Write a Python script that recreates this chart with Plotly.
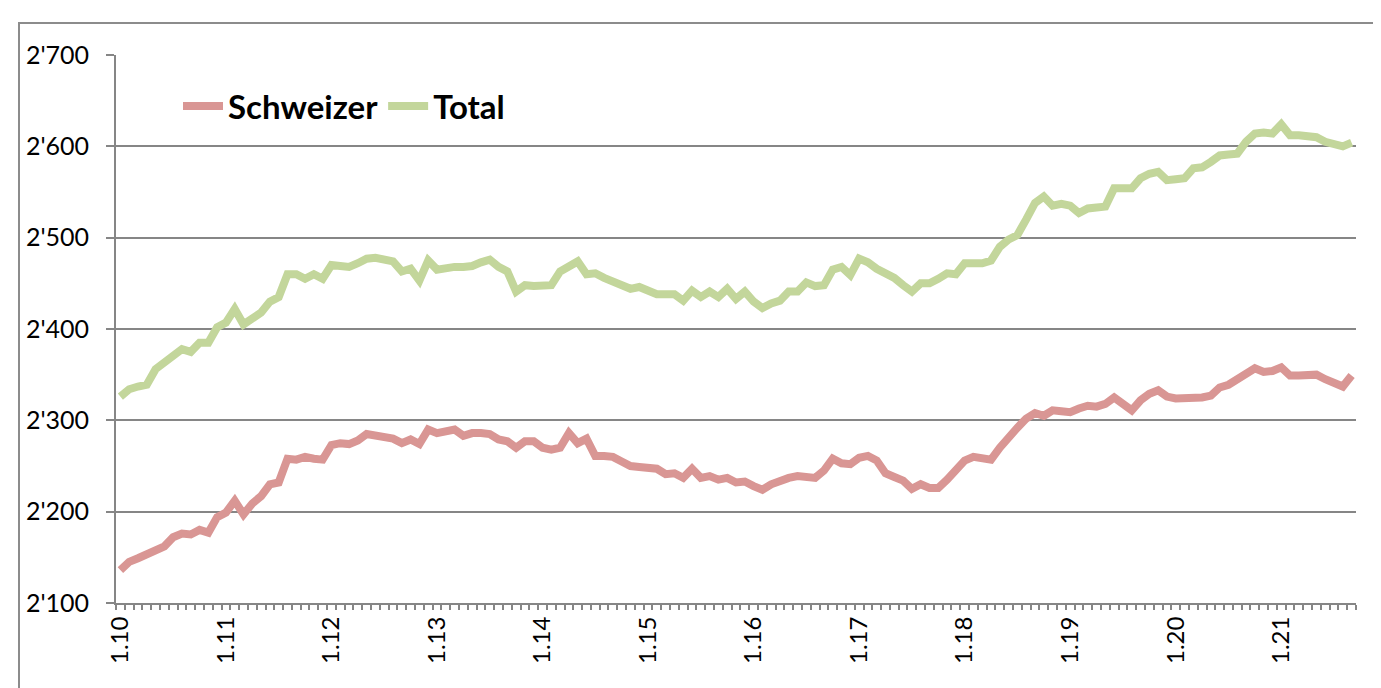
import plotly.graph_objects as go

# Monthly categories Jan 2010 .. Sep 2021
months = [f"{m}.{y:02d}" for y in range(10, 22) for m in range(1, 13)][:141]
tick_labels = [f"1.{y}" for y in range(10, 22)]

schweizer = [
    2136, 2145, 2149, 2153, 2157, 2162, 2172, 2176, 2175, 2180, 2177, 2194,
    2199, 2212, 2197, 2209, 2217, 2230, 2232, 2258, 2257, 2260, 2258, 2257,
    2273, 2275, 2274, 2278, 2285, 2283, 2282, 2280, 2275, 2279, 2274, 2290,
    2286, 2287, 2290, 2283, 2286, 2286, 2285, 2279, 2277, 2270, 2277, 2277,
    2270, 2268, 2270, 2286, 2275, 2280, 2261, 2261, 2260, 2255, 2250, 2249,
    2249, 2247, 2241, 2242, 2237, 2247, 2237, 2239, 2235, 2237, 2232, 2233,
    2228, 2224, 2230, 2234, 2237, 2239, 2239, 2237, 2245, 2258, 2253, 2252,
    2259, 2261, 2256, 2242, 2238, 2234, 2225, 2230, 2226, 2226, 2235, 2245,
    2256, 2260, 2258, 2257, 2270, 2282, 2292, 2302, 2308, 2305, 2311, 2310,
    2309, 2313, 2316, 2315, 2318, 2325, 2317, 2311, 2322, 2329, 2333, 2326,
    2324, 2324, 2325, 2325, 2327, 2336, 2339, 2345, 2352, 2357, 2353, 2354,
    2358, 2349, 2349, 2350, 2350, 2345, 2340, 2337, 2349,
]

total = [
    2326, 2334, 2337, 2339, 2356, 2363, 2370, 2378, 2375, 2385, 2385, 2402,
    2407, 2422, 2405, 2412, 2418, 2430, 2435, 2460, 2460, 2455, 2460, 2455,
    2470, 2469, 2468, 2472, 2477, 2478, 2476, 2474, 2463, 2466, 2453, 2475,
    2465, 2467, 2468, 2468, 2469, 2473, 2476, 2468, 2463, 2441, 2448, 2447,
    2447, 2448, 2463, 2468, 2474, 2460, 2461, 2456, 2452, 2448, 2444, 2446,
    2441, 2438, 2438, 2438, 2431, 2442, 2435, 2441, 2435, 2444, 2433, 2441,
    2430, 2423, 2428, 2431, 2441, 2441, 2451, 2447, 2448, 2465, 2468, 2459,
    2477, 2473, 2466, 2461, 2456, 2448, 2441, 2450, 2450, 2455, 2461, 2460,
    2472, 2472, 2472, 2475, 2490, 2498, 2503, 2520, 2538, 2545, 2535, 2537,
    2535, 2527, 2532, 2533, 2534, 2554, 2554, 2554, 2565, 2570, 2572, 2563,
    2564, 2565, 2576, 2577, 2583, 2590, 2591, 2592, 2605, 2614, 2615, 2614,
    2624, 2612, 2612, 2612, 2610, 2605, 2602, 2600, 2604,
]

x_idx = list(range(len(months)))
tick_idx = [months.index(t) for t in tick_labels]

RED = "#D99694"
GREEN = "#C3D69B"
GRAY = "#868686"
FONT = "Lato"

fig = go.Figure()
fig.add_trace(go.Scatter(x=x_idx, y=schweizer, mode="lines", name="Schweizer",
                         customdata=months, hovertemplate="%{customdata}: %{y}<extra>Schweizer</extra>",
                         line=dict(color=RED, width=8)))
fig.add_trace(go.Scatter(x=x_idx, y=total, mode="lines", name="Total",
                         customdata=months, hovertemplate="%{customdata}: %{y}<extra>Total</extra>",
                         line=dict(color=GREEN, width=8)))

W, H = 1381, 688
L, R, T, B = 108, 33, 47, 93
pw, ph = W - L - R, H - T - B

xr = [-0.5, len(months) - 0.5]

fig.update_layout(
    width=W, height=H,
    margin=dict(l=L, r=R, t=T, b=B),
    paper_bgcolor="white", plot_bgcolor="white",
    separators=".'",
    showlegend=True,
    legend=dict(orientation="h", x=(170 - L) / pw, y=(595 - 70) / ph,
                xanchor="left", yanchor="top",
                font=dict(family=FONT, size=33, color="black", weight="bold"),
                bgcolor="rgba(0,0,0,0)", itemwidth=40, tracegroupgap=0),
    xaxis=dict(range=xr, tickmode="array", tickvals=tick_idx, ticktext=tick_labels,
               tickangle=-90, ticks="", showgrid=False, zeroline=False,
               showline=True, linecolor=GRAY, linewidth=2,
               tickfont=dict(family=FONT, size=24, color="black"),
               ticklabelstandoff=2,
               minor=dict(ticks="outside", tick0=-0.5, dtick=1, ticklen=5,
                          tickcolor=GRAY, tickwidth=1.5, showgrid=False)),
    xaxis2=dict(range=xr, overlaying="x", showticklabels=False,
                showgrid=False, zeroline=False, showline=False, ticks="",
                anchor="y", side="bottom",
                minor=dict(ticks="inside", tick0=-0.5, dtick=1, ticklen=4,
                           tickcolor=GRAY, tickwidth=1.5, showgrid=False)),
    yaxis=dict(range=[2100, 2700], dtick=100, tick0=2100, tickformat=",d",
               showgrid=True, gridcolor=GRAY, gridwidth=2, zeroline=False,
               showline=True, linecolor=GRAY, linewidth=2,
               ticks="outside", ticklen=8, tickcolor=GRAY, tickwidth=1.5,
               ticklabelstandoff=12,
               tickfont=dict(family=FONT, size=25, color="black")),
    shapes=[dict(type="rect", xref="paper", yref="paper",
                 x0=(11 - L) / pw, x1=(W + 5 - L) / pw,
                 y0=(595 - (H + 5)) / ph, y1=(595 - 15) / ph,
                 line=dict(color="#8c8c8c", width=2), fillcolor="rgba(0,0,0,0)",
                 layer="below")],
)

fig.write_html("out.html")
